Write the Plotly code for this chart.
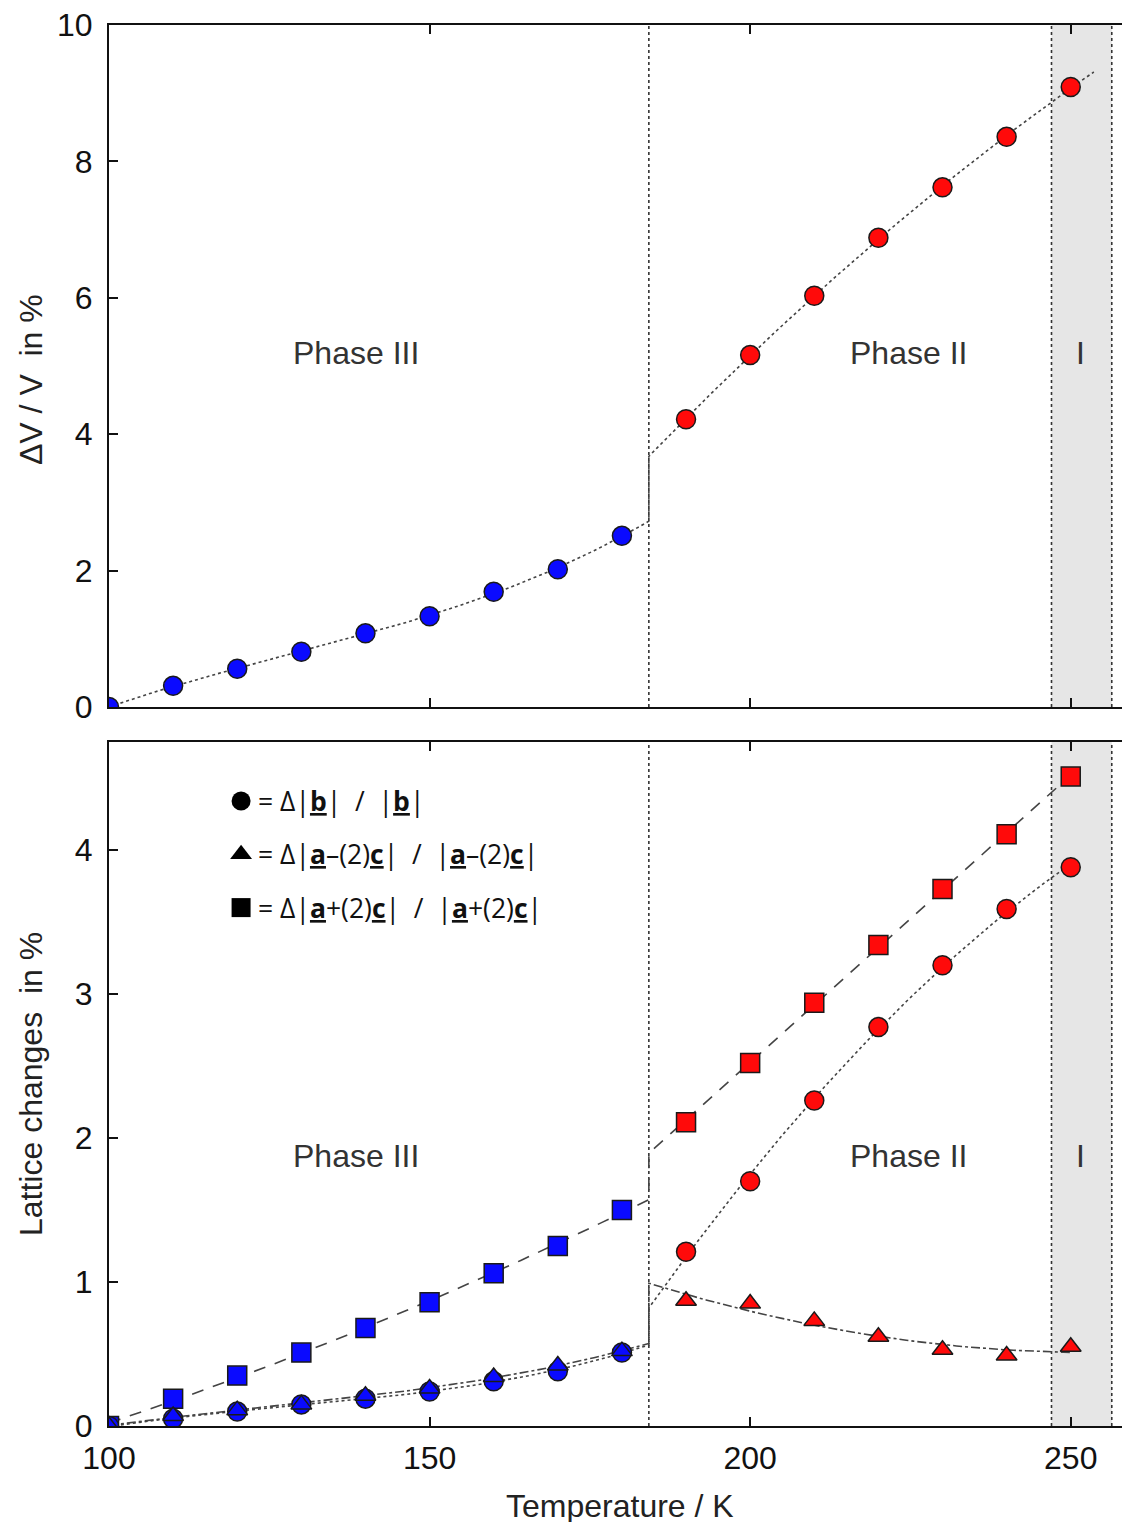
import numpy as np
import plotly.graph_objects as go

# ---------------- data ----------------
T_low = [100, 110, 120, 130, 140, 150, 160, 170, 180]
T_high = [190, 200, 210, 220, 230, 240, 250]

dV_low = [0.0, 0.31, 0.56, 0.81, 1.08, 1.33, 1.69, 2.02, 2.51]
dV_high = [4.22, 5.16, 6.03, 6.88, 7.62, 8.36, 9.09]

b_low = [0.0, 0.05, 0.10, 0.15, 0.19, 0.24, 0.31, 0.38, 0.51]
b_high = [1.21, 1.70, 2.26, 2.77, 3.20, 3.59, 3.88]

amc_low = [0.0, 0.07, 0.11, 0.15, 0.21, 0.26, 0.34, 0.42, 0.52]
amc_high = [0.87, 0.85, 0.73, 0.62, 0.53, 0.49, 0.55]

apc_low = [0.0, 0.19, 0.35, 0.51, 0.68, 0.86, 1.06, 1.25, 1.50]
apc_high = [2.11, 2.52, 2.94, 3.34, 3.73, 4.11, 4.51]

T_III_II = 184.2
T_II_I = 247.0
T_I_end = 256.4
X_RANGE = [100, 259.4]

phase_labels = ["Phase III", "Phase II", "I"]
phase_label_x = [138.5, 224.7, 251.6]

U = "<span style='text-decoration:underline'>{}</span>"
legend_texts = [
    "= Δ|<b>" + U.format("b") + "</b>|  /  |<b>" + U.format("b") + "</b>|",
    "= Δ|<b>" + U.format("a") + "</b>–(2)<b>" + U.format("c") + "</b>|  /  |<b>" + U.format("a") + "</b>–(2)<b>" + U.format("c") + "</b>|",
    "= Δ|<b>" + U.format("a") + "</b>+(2)<b>" + U.format("c") + "</b>|  /  |<b>" + U.format("a") + "</b>+(2)<b>" + U.format("c") + "</b>|",
]
legend_symbols = ["circle", "triangle-up", "square"]
legend_y = [4.34, 3.97, 3.60]
legend_x = 120.6

BLUE = "#0a0aff"
RED = "#ff0a0a"
EDGE = "#1a1a1a"
FIT = "#444444"
FONT = "Liberation Sans, Arial, sans-serif"
FS = 32


def fit_curve(x, y, deg, x0, x1, n=60):
    p = np.polyfit(x, y, deg)
    xs = np.linspace(x0, x1, n)
    return xs, np.polyval(p, xs)


def joined_fit(xl, yl, dl, xh, yh, dh, x_end):
    xa, ya = fit_curve(xl, yl, dl, xl[0], T_III_II)
    xb, yb = fit_curve(xh, yh, dh, T_III_II, x_end)
    return np.concatenate([xa, xb]), np.concatenate([ya, yb])


fig = go.Figure()

# ---------- shaded region & vertical lines ----------
shapes = []
for yref in ["y domain", "y2 domain"]:
    xref = "x" if yref == "y domain" else "x2"
    shapes.append(dict(type="rect", xref=xref, yref=yref, x0=T_II_I, x1=T_I_end,
                       y0=0, y1=1, fillcolor="#e6e6e6", line=dict(width=0), layer="below"))
    for xv in [T_III_II, T_II_I, T_I_end]:
        shapes.append(dict(type="line", xref=xref, yref=yref, x0=xv, x1=xv, y0=0, y1=1,
                           line=dict(color="#333333", width=1.6, dash="dot"), layer="below"))

# ---------- top panel ----------
fx, fy = joined_fit(T_low, dV_low, 3, T_high, dV_high, 2, 253.6)
fig.add_trace(go.Scatter(x=fx, y=fy, mode="lines", xaxis="x", yaxis="y",
                         line=dict(color=FIT, width=1.6, dash="dot")))
fig.add_trace(go.Scatter(x=T_low, y=dV_low, mode="markers", xaxis="x", yaxis="y",
                         marker=dict(symbol="circle", size=19, color=BLUE, line=dict(color=EDGE, width=1.5))))
fig.add_trace(go.Scatter(x=T_high, y=dV_high, mode="markers", xaxis="x", yaxis="y",
                         marker=dict(symbol="circle", size=19, color=RED, line=dict(color=EDGE, width=1.5))))

# ---------- bottom panel fits ----------
fx, fy = joined_fit(T_low, apc_low, 2, T_high, apc_high, 1, 250)
fig.add_trace(go.Scatter(x=fx, y=fy, mode="lines", xaxis="x2", yaxis="y2",
                         line=dict(color=FIT, width=1.6, dash="12px,10px")))
fx, fy = joined_fit(T_low, b_low, 3, T_high, b_high, 2, 250)
fig.add_trace(go.Scatter(x=fx, y=fy, mode="lines", xaxis="x2", yaxis="y2",
                         line=dict(color=FIT, width=1.6, dash="dot")))
fx, fy = joined_fit(T_low, amc_low, 3, T_high, amc_high, 2, 250)
fig.add_trace(go.Scatter(x=fx, y=fy, mode="lines", xaxis="x2", yaxis="y2",
                         line=dict(color=FIT, width=1.6, dash="dashdot")))

# ---------- bottom panel markers ----------
for xs, ys, sym, col in [
    (T_low, apc_low, "square", BLUE), (T_high, apc_high, "square", RED),
    (T_low, b_low, "circle", BLUE), (T_high, b_high, "circle", RED),
    (T_low, amc_low, "triangle-up", BLUE), (T_high, amc_high, "triangle-up", RED),
]:
    fig.add_trace(go.Scatter(x=xs, y=ys, mode="markers", xaxis="x2", yaxis="y2",
                             marker=dict(symbol=sym, size=19 if sym != "triangle-up" else 18,
                                         color=col, line=dict(color=EDGE, width=1.5))))

# legend markers
for sym, ly in zip(legend_symbols, legend_y):
    fig.add_trace(go.Scatter(x=[legend_x], y=[ly], mode="markers", xaxis="x2", yaxis="y2",
                             marker=dict(symbol=sym, size=19, color="black")))

annotations = []
for txt, ly in zip(legend_texts, legend_y):
    annotations.append(dict(x=legend_x + 2.3, y=ly, xref="x2", yref="y2", text=txt,
                            showarrow=False, xanchor="left", yanchor="middle",
                            font=dict(family="Open Sans, sans-serif", size=26.5, color="#111111")))
for lab, lx in zip(phase_labels, phase_label_x):
    annotations.append(dict(x=lx, y=5.19, xref="x", yref="y", text=lab, showarrow=False,
                            font=dict(family=FONT, size=FS, color="#333333")))
    annotations.append(dict(x=lx, y=1.875, xref="x2", yref="y2", text=lab, showarrow=False,
                            font=dict(family=FONT, size=FS, color="#333333")))

# axis titles
title_font = dict(family=FONT, size=FS, color="#222222")
annotations.append(dict(x=0, y=0.5, xref="paper", yref="y domain", xshift=-78, yshift=-14,
                        text="ΔV / V  in %", textangle=-90, showarrow=False,
                        xanchor="center", yanchor="middle", font=title_font))
annotations.append(dict(x=0, y=0.5, xref="paper", yref="y2 domain", xshift=-78,
                        text="Lattice changes  in %", textangle=-90, showarrow=False,
                        xanchor="center", yanchor="middle", font=title_font))
annotations.append(dict(x=0.5, y=0, xref="paper", yref="paper", yshift=-80,
                        text="Temperature / K", showarrow=False,
                        xanchor="center", yanchor="middle", font=title_font))

axis_common = dict(showline=True, linecolor="#111111", linewidth=2, mirror="ticks",
                   ticks="inside", ticklen=9, tickwidth=1.8, tickcolor="#111111",
                   showgrid=False, zeroline=False, automargin=False,
                   ticklabeloverflow="allow",
                   tickfont=dict(family=FONT, size=FS, color="#111111"))

top_dom = [(1425 - 706) / 1401, 1.0]
bot_dom = [0.0, 684 / 1401]

fig.update_layout(
    width=1130, height=1522,
    margin=dict(l=101, r=7, t=17, b=104),
    paper_bgcolor="white", plot_bgcolor="white",
    showlegend=False, hovermode=False,
    shapes=shapes, annotations=annotations,
    xaxis=dict(domain=[0, 1], range=X_RANGE, anchor="y", tickvals=[100, 150, 200, 250],
               showticklabels=False, **axis_common),
    yaxis=dict(domain=top_dom, range=[0, 10], anchor="x", tickvals=[0, 2, 4, 6, 8, 10],
               ticklabelstandoff=8, **axis_common),
    xaxis2=dict(domain=[0, 1], range=X_RANGE, anchor="y2", tickvals=[100, 150, 200, 250],
                ticklabelstandoff=3, **axis_common),
    yaxis2=dict(domain=bot_dom, range=[0, 4.75], anchor="x2", tickvals=[0, 1, 2, 3, 4],
                ticklabelstandoff=8, **axis_common),
)

fig.write_html("out.html")
